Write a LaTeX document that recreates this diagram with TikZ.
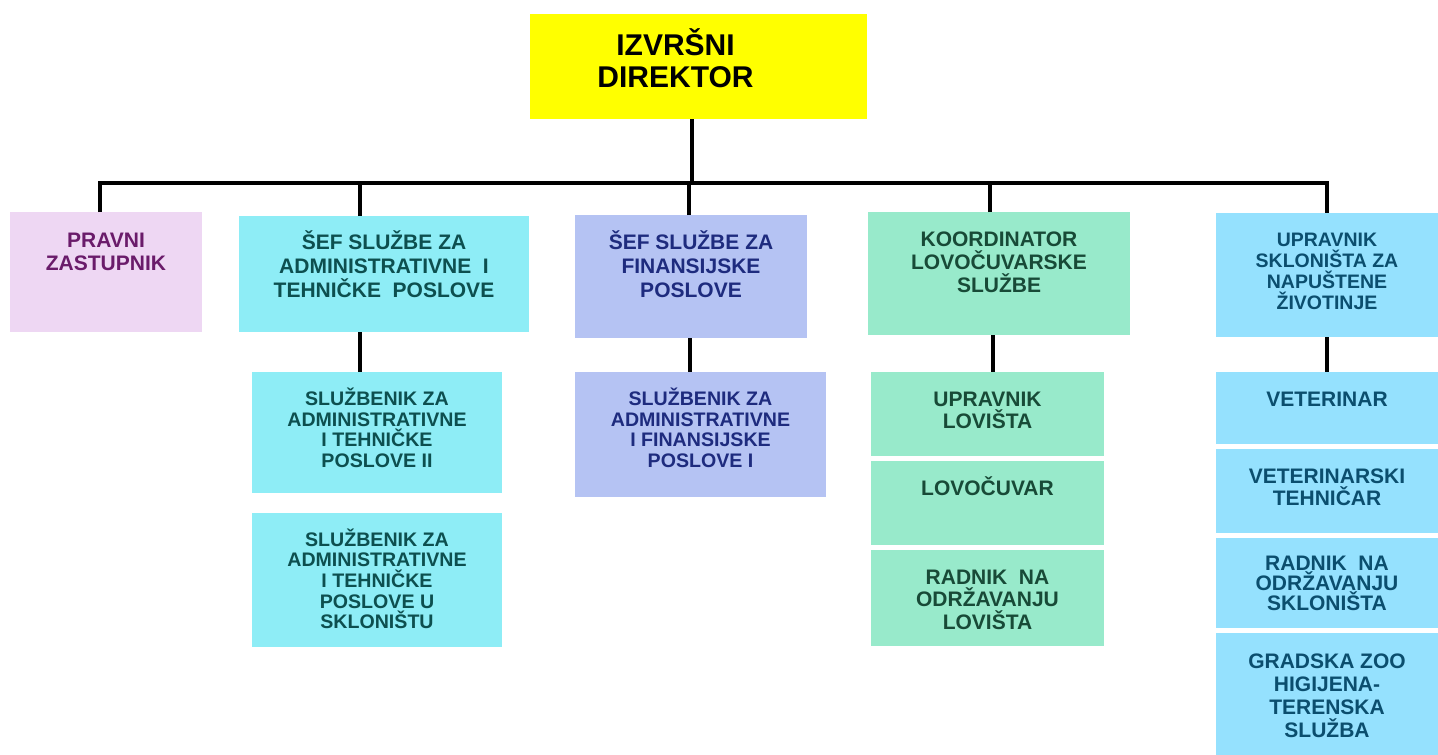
\documentclass[tikz,border=0pt]{standalone}
\usepackage{fontspec}
\setmainfont{Liberation Sans}
\usepackage{tikz}
\usetikzlibrary{positioning}

\definecolor{dirfill}{HTML}{FFFF00}
\definecolor{pravfill}{HTML}{EED7F3}
\definecolor{pravtext}{HTML}{6A1B6A}
\definecolor{admfill}{HTML}{8EEDF6}
\definecolor{admtext}{HTML}{0D4F4F}
\definecolor{finfill}{HTML}{B5C3F3}
\definecolor{fintext}{HTML}{1E2B7E}
\definecolor{lovfill}{HTML}{98EACB}
\definecolor{lovtext}{HTML}{184A37}
\definecolor{sklfill}{HTML}{95E1FE}
\definecolor{skltext}{HTML}{0B4E6E}

\newcommand{\orgfont}[2]{\bfseries\fontsize{#1}{#2}\selectfont}
\newcommand{\topstrut}{\rule{0pt}{1em}}

\begin{document}
\begin{tikzpicture}[x=1pt, y=-1pt]
		\tikzstyle{box}=[rectangle, inner sep=0pt, outer sep=0pt, anchor=north west]
		\tikzstyle{connect}=[line width=4pt, black]
		\tikzstyle{txt}=[anchor=north, inner sep=0pt, align=center, font=\orgfont{21}{22}]
		\useasboundingbox (0,0) rectangle (1438,755);
		% top
		\node[box, fill=dirfill, minimum width=337pt, minimum height=105pt,
			label={[txt, xshift=-23pt, yshift=-11pt, font=\orgfont{30}{32}]north:{\topstrut IZVRŠNI\\DIREKTOR}}] (dir) at (530,14) {};
		% first row
		\node[box, fill=pravfill, minimum width=192pt, minimum height=120pt,
			label={[txt, text=pravtext, yshift=-14.5pt, font=\orgfont{21}{22.5}]north:{\topstrut PRAVNI\\ZASTUPNIK}}] (pravni) at (10,212) {};
		\node[box, fill=admfill, minimum width=290pt, minimum height=116pt,
			label={[txt, text=admtext, yshift=-12.5pt, font=\orgfont{21}{24}]north:{\topstrut ŠEF SLUŽBE ZA\\ADMINISTRATIVNE\ \ I\\TEHNIČKE\ \ POSLOVE}}] (admin) at (239,216) {};
		\node[box, fill=finfill, minimum width=232pt, minimum height=123pt,
			label={[txt, text=fintext, yshift=-13.5pt, font=\orgfont{21}{24}]north:{\topstrut ŠEF SLUŽBE ZA\\FINANSIJSKE\\POSLOVE}}] (fin) at (575,215) {};
		\node[box, fill=lovfill, minimum width=262pt, minimum height=123pt,
			label={[txt, text=lovtext, yshift=-12.8pt, font=\orgfont{21}{23.2}]north:{\topstrut KOORDINATOR\\LOVOČUVARSKE\\SLUŽBE}}] (koord) at (868,212) {};
		\node[box, fill=sklfill, minimum width=222pt, minimum height=124pt,
			label={[txt, text=skltext, yshift=-13.5pt, font=\orgfont{19.5}{21}]north:{\topstrut UPRAVNIK\\SKLONIŠTA ZA\\NAPUŠTENE\\ŽIVOTINJE}}] (shelter) at (1216,213) {};
		% second row
		\node[box, fill=admfill, minimum width=250pt, minimum height=121pt,
			label={[txt, text=admtext, yshift=-13.7pt, font=\orgfont{19.6}{20.6}]north:{\topstrut SLUŽBENIK ZA\\ADMINISTRATIVNE\\I TEHNIČKE\\POSLOVE II}}] (admtwo) at (252,372) {};
		\node[box, fill=admfill, minimum width=250pt, minimum height=134pt, below=20pt of admtwo,
			label={[txt, text=admtext, yshift=-13.4pt, font=\orgfont{19.6}{20.6}]north:{\topstrut SLUŽBENIK ZA\\ADMINISTRATIVNE\\I TEHNIČKE\\POSLOVE U\\SKLONIŠTU}}] (admsklon) {};
		\node[box, fill=finfill, minimum width=251pt, minimum height=125pt,
			label={[txt, text=fintext, yshift=-13.7pt, font=\orgfont{19.6}{20.6}]north:{\topstrut SLUŽBENIK ZA\\ADMINISTRATIVNE\\I FINANSIJSKE\\POSLOVE I}}] (finone) at (575,372) {};
		\node[box, fill=lovfill, minimum width=233pt, minimum height=84pt,
			label={[txt, text=lovtext, yshift=-13.5pt]north:{\topstrut UPRAVNIK\\LOVIŠTA}}] (uprlov) at (871,372) {};
		\node[box, fill=lovfill, minimum width=233pt, minimum height=84pt, below=5pt of uprlov,
			label={[txt, text=lovtext, yshift=-13.5pt]north:{\topstrut LOVOČUVAR}}] (lovoc) {};
		\node[box, fill=lovfill, minimum width=233pt, minimum height=96pt, below=5pt of lovoc,
			label={[txt, text=lovtext, yshift=-12.8pt, font=\orgfont{21}{22.7}]north:{\topstrut RADNIK\ \ NA\\ODRŽAVANJU\\LOVIŠTA}}] (radlov) {};
		\node[box, fill=sklfill, minimum width=222pt, minimum height=72pt,
			label={[txt, text=skltext, yshift=-13.5pt]north:{\topstrut VETERINAR}}] (vet) at (1216,372) {};
		\node[box, fill=sklfill, minimum width=222pt, minimum height=84pt, below=5pt of vet,
			label={[txt, text=skltext, yshift=-13.5pt]north:{\topstrut VETERINARSKI\\TEHNIČAR}}] (vettech) {};
		\node[box, fill=sklfill, minimum width=222pt, minimum height=90pt, below=5pt of vettech,
			label={[txt, text=skltext, yshift=-11.5pt, font=\orgfont{21}{20}]north:{\topstrut RADNIK\ \ NA\\ODRŽAVANJU\\SKLONIŠTA}}] (radskl) {};
		\node[box, fill=sklfill, minimum width=222pt, minimum height=122pt, below=5pt of radskl,
			label={[txt, text=skltext, yshift=-14.5pt, font=\orgfont{21}{23}]north:{\topstrut GRADSKA ZOO\\HIGIJENA-\\TERENSKA\\SLUŽBA}}] (zoo) {};
		% lines
		\coordinate (bus) at (692,183);
		\draw[connect] (dir.south -| bus) -- (bus);
		\draw[connect] ([xshift=-6pt]pravni.north) |- (bus) -| (shelter.north);
		\draw[connect] ([xshift=-24pt]admin.north) -- ([xshift=-24pt]admin.north |- bus);
		\draw[connect] ([xshift=-2pt]fin.north) -- ([xshift=-2pt]fin.north |- bus);
		\draw[connect] ([xshift=-9pt]koord.north) -- ([xshift=-9pt]koord.north |- bus);
		\draw[connect] ([xshift=-24pt]admin.south) -- ([xshift=-24pt]admin.south |- admtwo.north);
		\draw[connect] ([xshift=-1pt]fin.south) -- ([xshift=-1pt]fin.south |- finone.north);
		\draw[connect] ([xshift=-6pt]koord.south) -- ([xshift=-6pt]koord.south |- uprlov.north);
		\draw[connect] (shelter.south) -- (shelter.south |- vet.north);
	\end{tikzpicture}
\end{document}
